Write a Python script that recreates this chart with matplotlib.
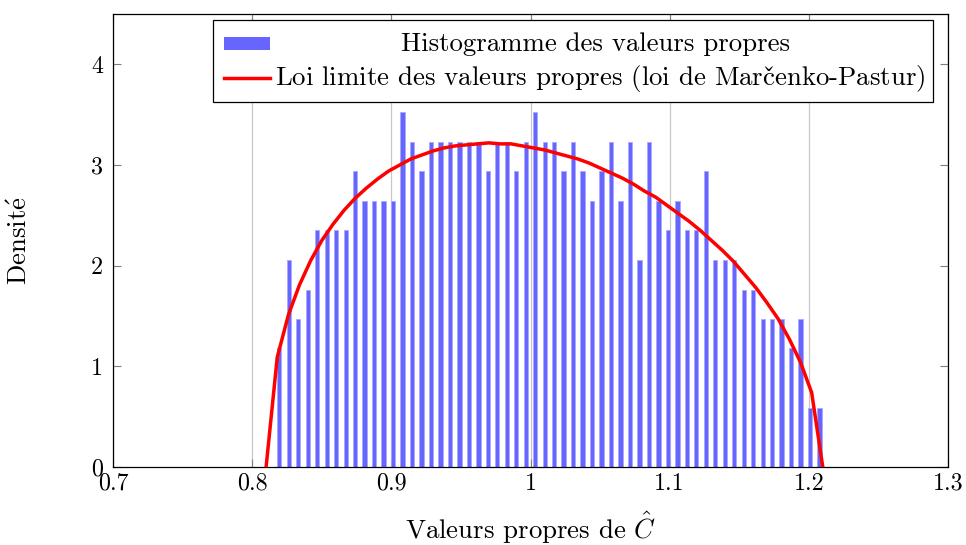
import matplotlib
matplotlib.use('Agg')
import matplotlib.pyplot as plt
import numpy as np
from matplotlib.patches import Rectangle
from matplotlib.lines import Line2D

# histogram of eigenvalues (density per bin)
bin_first = 0.8195
bin_step = 0.00681
hist_density = [1.18, 2.06, 1.47, 1.76, 2.35, 2.35, 2.35, 2.35, 2.94, 2.64,
                2.64, 2.64, 2.64, 3.53, 3.23, 2.94, 3.23, 3.23, 3.23, 3.23,
                3.23, 3.23, 2.94, 3.23, 3.23, 2.94, 3.23, 3.53, 3.23, 3.23,
                2.94, 3.23, 2.94, 2.64, 2.94, 3.23, 2.64, 3.23, 2.06, 3.23,
                2.64, 2.35, 2.64, 2.35, 2.35, 2.94, 2.06, 2.06, 2.06, 1.76,
                1.76, 1.47, 1.47, 1.47, 1.18, 1.47, 0.59, 0.59]

# Marcenko-Pastur limit curve (sampled points)
mp_x = [0.810, 0.818, 0.826, 0.834, 0.842, 0.850, 0.858, 0.866, 0.874, 0.882,
        0.890, 0.898, 0.906, 0.914, 0.922, 0.930, 0.938, 0.946, 0.954, 0.962,
        0.970, 0.978, 0.986, 0.994, 1.002, 1.010, 1.018, 1.026, 1.034, 1.042,
        1.050, 1.058, 1.066, 1.074, 1.082, 1.090, 1.098, 1.106, 1.114, 1.122,
        1.130, 1.138, 1.146, 1.154, 1.162, 1.170, 1.178, 1.186, 1.194, 1.202,
        1.210]
mp_y = [0.00, 1.09, 1.51, 1.81, 2.05, 2.25, 2.41, 2.55, 2.67, 2.77,
        2.86, 2.94, 3.00, 3.06, 3.10, 3.14, 3.17, 3.19, 3.20, 3.21,
        3.22, 3.21, 3.21, 3.19, 3.17, 3.15, 3.12, 3.09, 3.06, 3.02,
        2.97, 2.92, 2.87, 2.81, 2.74, 2.68, 2.60, 2.52, 2.44, 2.35,
        2.25, 2.15, 2.04, 1.91, 1.78, 1.63, 1.47, 1.27, 1.04, 0.74,
        0.00]

x_ticks = [0.7, 0.8, 0.9, 1.0, 1.1, 1.2, 1.3]
y_ticks = [0, 1, 2, 3, 4]

label_hist = 'Histogramme des valeurs propres'
# the caron is shifted by hand, mathtext puts it too far left otherwise
label_mp = ('Loi limite des valeurs propres (loi de '
            'Mar$\\mathrm{\\,\\,\\,\\check{\\!\\!\\!c}}$enko-Pastur)')

plt.rcParams['font.family'] = ['cmr10']
plt.rcParams['mathtext.fontset'] = 'cm'
plt.rcParams['axes.unicode_minus'] = False
fs = 19.3
fs_tick = 17.3

fig = plt.figure(figsize=(9.66, 5.45), dpi=100)
ax = fig.add_axes([0.117, 0.1431, 0.8644, 0.8312])

bar_x = bin_first + bin_step * np.arange(len(hist_density))
ax.bar(bar_x, hist_density, width=0.0031, color='#6666ff', edgecolor='#a8a8ff',
       linewidth=0.6, zorder=2)
ax.plot(mp_x, mp_y, color='red', linewidth=2.5, zorder=3)

ax.set_xlim(0.7, 1.3)
ax.set_ylim(0, 4.5)
ax.set_xticks(x_ticks)
ax.set_yticks(y_ticks)
ax.set_xticklabels(['%g' % v for v in x_ticks])
ax.set_yticklabels(['%g' % v for v in y_ticks])
ax.tick_params(direction='in', length=6, width=0.8, color='#7f7f7f',
               top=True, right=True, labelsize=fs_tick)
ax.tick_params(axis='x', pad=4)
ax.tick_params(axis='y', pad=7)
ax.grid(axis='x', color='#c8c8c8', linewidth=0.9, zorder=0)
ax.set_axisbelow(True)
for s in ax.spines.values():
    s.set_linewidth(0.9)

ax.set_xlabel('Valeurs propres de $\\hat{C}$', fontsize=fs, va='baseline')
ax.xaxis.set_label_coords(0.5, -0.158)
ylab = ax.set_ylabel('Densit$\\mathrm{\\acute{e}}$', fontsize=fs)
ylab.set_va('center')
ylab.set_rotation_mode('default')
ax.yaxis.set_label_coords(-0.1114, 0.5)

# legend box drawn by hand so that the first label is centred like pgfplots
tr = ax.transAxes
ax.add_patch(Rectangle((0.1198, 0.8057), 0.8622, 0.1811, transform=tr,
                       facecolor='white', edgecolor='black', linewidth=0.9,
                       zorder=5, clip_on=False))
ax.add_patch(Rectangle((0.133, 0.9205), 0.055, 0.0287, transform=tr,
                       facecolor='#6666ff', edgecolor='none', zorder=6))
ax.add_line(Line2D([0.133, 0.188], [0.858, 0.858], transform=tr,
                   color='red', linewidth=2.5, zorder=6))
ax.text(0.5784, 0.9338, label_hist, transform=tr, fontsize=fs,
        ha='center', va='center', zorder=7)
ax.text(0.194, 0.858, label_mp, transform=tr, fontsize=fs,
        ha='left', va='center', zorder=7)

fig.savefig('out.png', dpi=100)
